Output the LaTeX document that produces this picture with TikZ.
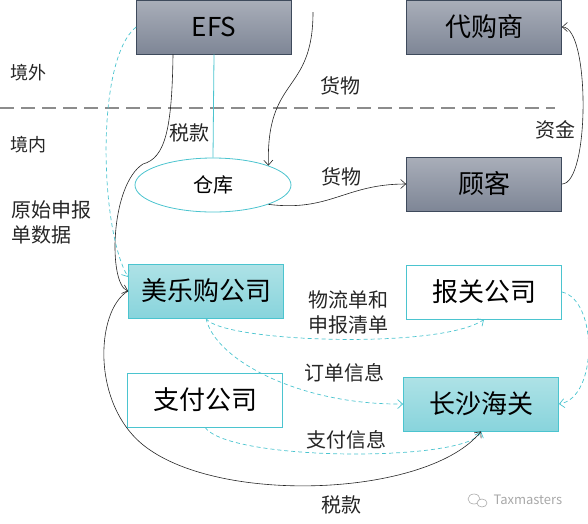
\documentclass[tikz,border=0pt]{standalone}
\usepackage{fontspec}
\setmainfont{Noto Sans CJK SC}
\usetikzlibrary{arrows.meta,positioning,shapes.geometric}

\definecolor{boxline}{HTML}{3E4A5C}
\definecolor{graytop}{HTML}{A9AEB9}
\definecolor{graybot}{HTML}{7E8696}
\definecolor{cyanline}{HTML}{4BC4CF}
\definecolor{cyantop}{HTML}{AEE2E6}
\definecolor{cyanbot}{HTML}{88D4DC}
\definecolor{divider}{HTML}{8C8C8C}
\definecolor{wmgray}{HTML}{A8A8A8}

\tikzset{
    box/.style={minimum width=155pt, minimum height=54pt, inner sep=0pt,
        font=\fontsize{26}{30}\selectfont},
    graybox/.style={box, draw=boxline, line width=0.8pt, top color=graytop, bottom color=graybot},
    cyanbox/.style={box, draw=cyanline, line width=0.8pt, top color=cyantop, bottom color=cyanbot},
    whitebox/.style={box, draw=cyanline, line width=0.8pt, fill=white},
    lbl/.style={font=\fontsize{20}{25}\selectfont, text=black!85},
    flow/.style={-{Straight Barb[length=5pt,width=9pt]}, black!85, line width=0.6pt},
    info/.style={-{Straight Barb[length=5pt,width=9pt]}, cyanline, line width=0.7pt, dash pattern=on 4pt off 3pt},
}

\begin{document}
\begin{tikzpicture}[x=1pt, y=-1pt]
    \useasboundingbox (0, 0) rectangle (588, 523);

    % border between outside and inside
    \draw[divider, line width=2.5pt, dash pattern=on 14pt off 7pt] (0, 108) -- (555, 108);
    \node[lbl, font=\fontsize{18}{22}\selectfont] (outside) at (28, 73) {境外};
    \node[lbl, font=\fontsize{18}{22}\selectfont] (inside) at (28, 145) {境内};

    % parties
    \node[graybox] (efs) at (214, 27) {EFS};
    \node[graybox] (daigou) at (484, 27) {代购商};
    \node[graybox] (guke) at (484, 184) {顾客};
    \node[ellipse, draw=cyanline, line width=0.8pt, fill=white, minimum width=156pt,
        minimum height=54pt, inner sep=0pt, font=\fontsize{20}{24}\selectfont] (cangku) at (213, 185) {仓库};
    \node[cyanbox] (meile) at (206, 291) {美乐购公司};
    \node[whitebox] (baoguan) at (484, 292) {报关公司};
    \node[whitebox] (zhifu) at (205, 400) {支付公司};
    \node[cyanbox] (haiguan) at (481, 404) {长沙海关};

    % goods and money
    \coordinate (goodsin) at (313, 12);
    \draw[cyanline, line width=0.8pt] (efs.south) -- (cangku.north);
    \node[lbl] (tax1) at (189, 133) {税款};
    \draw[flow] (goodsin) .. controls (313, 95) and (266, 75) .. (cangku.north east);
    \node[lbl] (goods1) at (340, 86) {货物};
    \draw[flow] (cangku.south east) .. controls (330, 212) and (345, 184) .. (guke.west);
    \node[lbl] (goods2) at (341, 177) {货物};
    \draw[flow] (guke.east) .. controls (590, 184) and (590, 27) .. (daigou.east);
    \node[lbl] (money) at (555, 130) {资金};

    % declaration data
    \draw[flow] ([xshift=-41pt]efs.south) .. controls (172, 130) and (165, 158) .. (143, 164)
        .. controls (110, 185) and (108, 284) .. (meile.west);
    \draw[info] (efs.west) .. controls (95, 60) and (100, 230) .. ([yshift=14pt]meile.west);
    \node[lbl, align=left, anchor=west] (rawdata) at (8, 222) {原始申报\\单数据};

    % information flows
    \draw[info] (meile.south) .. controls (220, 342) and (440, 350) .. (baoguan.south);
    \node[lbl, align=center] (logistics) at (348, 312) {物流单和\\申报清单};
    \draw[info] (meile.south) .. controls (215, 360) and (300, 405) .. (haiguan.west);
    \node[lbl] (order) at (344, 373) {订单信息};
    \draw[info] (baoguan.east) .. controls (598, 300) and (598, 398) .. (haiguan.east);
    \draw[info] (zhifu.south) .. controls (230, 462) and (470, 462) .. (haiguan.south);
    \node[lbl] (payment) at (346, 440) {支付信息};

    % tax to customs
    \draw[flow] (meile.west) .. controls (95, 310) and (90, 410) .. (150, 450)
        .. controls (230, 505) and (430, 495) .. (haiguan.south);
    \node[lbl] (tax2) at (341, 505) {税款};

    % watermark
    \draw[wmgray, line width=0.6pt] (474, 499) ellipse (6pt and 5pt);
    \draw[wmgray, line width=0.6pt, fill=white] (482, 503) ellipse (5pt and 4pt);
    \node[wmgray, font=\fontsize{13}{15}\selectfont, anchor=west] (wm) at (490, 500) {Taxmasters};
\end{tikzpicture}
\end{document}
